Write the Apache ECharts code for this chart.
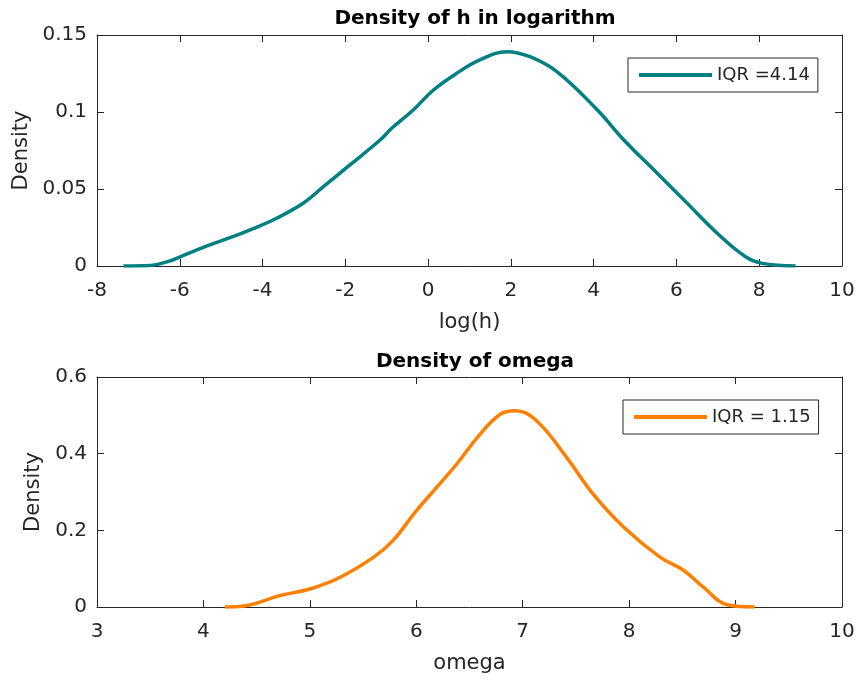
<!DOCTYPE html>
<html lang="en">

<head>
  <meta charset="UTF-8">
  <title>Density of h and omega</title>
  <script src="https://cdn.jsdelivr.net/npm/echarts@6/dist/echarts.min.js"></script>
  <style>
    * {
      margin: 0;
      padding: 0;
      box-sizing: border-box;
    }

    body {
      background: #fff;
    }

    #chart {
      width: 858px;
      height: 685px;
    }
  </style>
</head>

<body>
  <div id="chart"></div>

  <script>
    // density of log(h)
    const hX = [-7.36, -6.71, -6.27, -5.99, -5.34, -4.62, -4.30, -3.66, -3.02, -2.53, -1.89, -1.16, -0.88,
      -0.36, 0.13, 0.69, 1.25, 1.90, 2.46, 3.11, 4.05, 4.77, 5.50, 6.22, 7.03, 7.67, 8.07, 8.88];
    const hY = [0, 0.0003, 0.003, 0.006, 0.013, 0.020, 0.0234, 0.031, 0.0407, 0.0515, 0.0656, 0.0818, 0.0894,
      0.1013, 0.1143, 0.1251, 0.1338, 0.1392, 0.1359, 0.1262, 0.1024, 0.0807, 0.0612, 0.0418, 0.0201, 0.006, 0.0017, 0];

    // density of omega
    const omegaX = [4.20, 4.41, 4.72, 5.00, 5.28, 5.60, 5.78, 6.00, 6.22, 6.38, 6.60, 6.79, 6.93,
      7.13, 7.41, 7.66, 7.95, 8.29, 8.51, 8.70, 8.92, 9.18];
    const omegaY = [0, 0.004, 0.030, 0.047, 0.077, 0.130, 0.173, 0.251, 0.321, 0.373, 0.451, 0.503, 0.512,
      0.486, 0.391, 0.295, 0.208, 0.130, 0.096, 0.051, 0.006, 0];

    const legendNames = ['IQR =4.14', 'IQR = 1.15'];
    const titles = ['Density of h in logarithm', 'Density of omega'];

    const axisColor = '#262626';
    const font = 'DejaVu Sans';

    const zip = (xs, ys) => xs.map((x, i) => [x, ys[i]]);

    // one bottom/left axis with labels, one top/right axis just for the box ticks
    function xAxes(grid, min, max, interval, name) {
      const base = {
        gridIndex: grid,
        type: 'value',
        min: min,
        max: max,
        interval: interval,
        splitLine: { show: false },
        axisLine: { onZero: false, lineStyle: { color: axisColor, width: 1 } },
        axisTick: { inside: true, length: 7, lineStyle: { color: axisColor } }
      };
      return [
        Object.assign({}, base, {
          position: 'bottom',
          name: name,
          nameLocation: 'middle',
          nameGap: 46,
          nameTextStyle: { fontFamily: font, fontSize: 21, color: axisColor },
          axisLabel: { margin: 15, fontFamily: font, fontSize: 20, color: axisColor }
        }),
        Object.assign({}, base, { position: 'top', axisLabel: { show: false } })
      ];
    }

    function yAxes(grid, min, max, interval, gap) {
      const base = {
        gridIndex: grid,
        type: 'value',
        min: min,
        max: max,
        interval: interval,
        splitLine: { show: false },
        axisLine: { show: true, onZero: false, lineStyle: { color: axisColor, width: 1 } },
        axisTick: { show: true, inside: true, length: 7, lineStyle: { color: axisColor } }
      };
      return [
        Object.assign({}, base, {
          position: 'left',
          name: 'Density',
          nameLocation: 'middle',
          nameGap: gap,
          nameTextStyle: { fontFamily: font, fontSize: 21, color: axisColor },
          axisLabel: { margin: 10, fontFamily: font, fontSize: 20, color: axisColor }
        }),
        Object.assign({}, base, { position: 'right', axisLabel: { show: false } })
      ];
    }

    function legend(top, left, name) {
      return {
        left: left,
        top: top,
        orient: 'vertical',
        data: [name],
        icon: 'rect',
        itemWidth: 73,
        itemHeight: 4,
        padding: [8, 8, 8, 11],
        borderColor: axisColor,
        borderWidth: 1,
        backgroundColor: '#fff',
        selectedMode: false,
        textStyle: { fontFamily: font, fontSize: 18, color: axisColor }
      };
    }

    const myChart = echarts.init(document.getElementById('chart'));

    const option = {
      animation: false,
      title: [
        {
          text: titles[0], left: 470, top: 4, textAlign: 'center',
          textStyle: { fontFamily: font, fontSize: 20, fontWeight: 'bold', color: '#000' }
        },
        {
          text: titles[1], left: 470, top: 347, textAlign: 'center',
          textStyle: { fontFamily: font, fontSize: 20, fontWeight: 'bold', color: '#000' }
        }
      ],
      legend: [legend(58, 628, legendNames[0]), legend(400, 623, legendNames[1])],
      grid: [
        { left: 97, top: 35, width: 745, height: 231 },
        { left: 97, top: 377, width: 745, height: 230 }
      ],
      xAxis: [].concat(xAxes(0, -8, 10, 2, 'log(h)'), xAxes(1, 3, 10, 1, 'omega')),
      yAxis: [].concat(yAxes(0, 0, 0.15, 0.05, 62), yAxes(1, 0, 0.6, 0.2, 51)),
      series: [
        {
          name: legendNames[0],
          type: 'line',
          xAxisIndex: 0,
          yAxisIndex: 0,
          data: zip(hX, hY),
          smooth: 0.4,
          showSymbol: false,
          symbol: 'none',
          color: '#008080',
          lineStyle: { width: 3.5, color: '#008080' }
        },
        {
          name: legendNames[1],
          type: 'line',
          xAxisIndex: 2,
          yAxisIndex: 2,
          data: zip(omegaX, omegaY),
          smooth: 0.4,
          showSymbol: false,
          symbol: 'none',
          color: '#ff8000',
          lineStyle: { width: 3.5, color: '#ff8000' }
        }
      ]
    };

    myChart.setOption(option);
  </script>
</body>

</html>
